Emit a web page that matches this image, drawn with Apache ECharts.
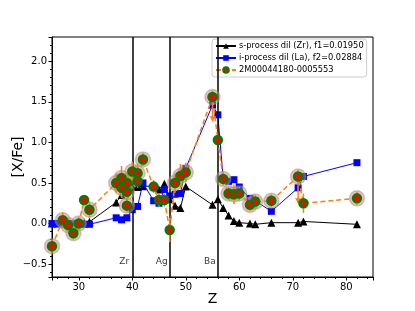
<!DOCTYPE html>
<html><head><meta charset="utf-8">
<script src="https://cdn.jsdelivr.net/npm/echarts@6/dist/echarts.min.js"></script>
<style>html,body{margin:0;padding:0;background:#fff}#c{width:415px;height:311px}</style>
</head><body><div id="c"></div>
<script>
// s-process dilution model (black triangles)
const sZ = [25,26,27,28,29,30,31,32,37,38,39,40,41,42,44,45,46,47,48,49,50,55,56,57,58,59,60,62,63,66,71,72,82];
const sV = [0,0,0,0,0,0,0.01,0.02,0.26,0.35,0.40,0.45,0.45,0.46,0.46,0.42,0.49,0.30,0.22,0.19,0.455,0.23,0.30,0.19,0.10,0.03,0.01,0.0,-0.01,0.01,0.01,0.025,-0.01];
// i-process dilution model (blue squares)
const iZ = [25,26,27,28,29,30,31,32,37,38,39,40,41,42,44,45,46,47,48,49,50,55,56,57,58,59,60,62,63,66,71,72,82];
const iV = [0.0,0.0,0.0,-0.01,0.0,0.0,-0.01,-0.01,0.07,0.045,0.07,0.17,0.21,0.50,0.28,0.25,0.42,0.34,0.36,0.37,0.68,1.46,1.34,0.55,0.52,0.54,0.45,0.31,0.28,0.15,0.44,0.58,0.75];
// star abundances
const starZ = [25,27,28,29,30,31,32,37,38,38,39,39,39,40,41,41,42,44,45,46,47,48,49,50,55,56,57,58,59,60,62,63,66,71,72,82];
const starV = [-0.28,0.04,-0.02,-0.12,0.0,0.29,0.17,0.50,0.56,0.44,0.50,0.39,0.22,0.64,0.62,0.52,0.79,0.455,0.29,0.29,-0.08,0.50,0.585,0.63,1.56,1.03,0.55,0.37,0.36,0.37,0.23,0.27,0.28,0.58,0.25,0.31];
const starErr = [0.08,0.1,0.08,0.08,0.08,0.04,0.1,0.12,0.15,0.12,0.12,0.12,0.08,0.12,0.12,0.08,0.08,0.08,0.08,0.08,0.15,0.12,0.15,0.12,0.08,0.04,0.08,0.08,0.12,0.08,0.08,0.08,0.08,0.08,0.12,0.08];
const starHalo = [1,1,1,1,1,0,1,1,1,1,1,1,1,1,1,0,1,0,0,0,0,1,1,1,1,0,1,1,1,1,1,1,1,1,0,1];
// upper limits
const limZ = [55,71];
const limV = [1.56,0.58];
const limLen = [0.3,0.33];
// reference lines
const lineZ = [40,47,56];
const lineNames = ['Zr','Ag','Ba'];
const lineLabelZ = [38.5,45.5,54.5];
const lineLabelV = -0.47;

const names = ['s-process dil (Zr), f1=0.01950','i-process dil (La), f2=0.02884','2M00044180-0005553'];
const FONT = 'DejaVu Sans';
const fmtY = v => v.toFixed(1).replace('-', '\u2212');

const chart = echarts.init(document.getElementById('c'), null, {renderer:'canvas'});
const errData = starZ.map((z,i)=>[z, starV[i]-starErr[i], starV[i]+starErr[i]]);
const haloData = starZ.map((z,i)=>[z, starV[i]]).filter((d,i)=>starHalo[i]);
const limData = limZ.map((z,i)=>[z, limV[i], limV[i]-limLen[i]]);

chart.setOption({
  animation:false,
  textStyle:{fontFamily:FONT},
  grid:{left:52, right:42, top:37, bottom:34, show:true, borderColor:'#000', borderWidth:1, containLabel:false, outerBoundsMode:'none'},
  legend:{
    data:names, orient:'vertical', left:212, top:39,
    itemWidth:20, itemHeight:7, itemGap:4, padding:[3,3,3,3],
    backgroundColor:'rgba(255,255,255,0.8)', borderColor:'#ccc', borderWidth:1, borderRadius:3,
    textStyle:{fontFamily:FONT, fontSize:8.3, color:'#000', padding:[0,0,0,-2]}
  },
  xAxis:{
    type:'value', min:25, max:85, splitNumber:6,
    name:'Z', nameLocation:'middle', nameGap:15, nameMoveOverlap:false, nameTextStyle:{fontFamily:FONT, fontSize:14, color:'#000'},
    axisLine:{show:true, onZero:false, lineStyle:{color:'#000'}},
    axisTick:{show:true, inside:false, length:3.5, lineStyle:{color:'#000'}},
    minorTick:{show:true, splitNumber:5, length:2, lineStyle:{color:'#000'}},
    axisLabel:{fontFamily:FONT, fontSize:10, color:'#000', margin:5, showMinLabel:false, showMaxLabel:false},
    splitLine:{show:false}
  },
  yAxis:{
    type:'value', min:-0.66, max:2.3, splitNumber:6,
    name:'[X/Fe]', nameLocation:'middle', nameGap:27, nameRotate:90, nameMoveOverlap:false, nameTextStyle:{fontFamily:FONT, fontSize:14, color:'#000'},
    axisLine:{show:true, onZero:false, lineStyle:{color:'#000'}},
    axisTick:{show:true, inside:false, length:3.5, lineStyle:{color:'#000'}},
    minorTick:{show:true, splitNumber:5, length:2, lineStyle:{color:'#000'}},
    axisLabel:{fontFamily:FONT, fontSize:10, color:'#000', margin:5, showMinLabel:false, showMaxLabel:false, formatter:fmtY},
    splitLine:{show:false}
  },
  series:[
    {
      name:'refs', type:'scatter', symbolSize:0, silent:true, z:1,
      data: lineNames.map((n,i)=>[lineLabelZ[i], lineLabelV, n]),
      label:{show:true, position:'inside', formatter:p=>p.data[2], fontFamily:FONT, fontSize:9, color:'#000'},
      markLine:{symbol:'none', silent:true, label:{show:false},
        lineStyle:{color:'#000', width:1.5, type:'solid'},
        data: lineZ.map(z=>({xAxis:z}))}
    },
    {
      name:names[0], type:'line', data:sZ.map((z,i)=>[z,sV[i]]), z:3,
      symbol:'triangle', symbolSize:8, itemStyle:{color:'#000'}, lineStyle:{color:'#000', width:1}
    },
    {
      name:names[1], type:'line', data:iZ.map((z,i)=>[z,iV[i]]), z:4,
      symbol:'rect', symbolSize:7, itemStyle:{color:'#0000ff'}, lineStyle:{color:'#0000ff', width:1}
    },
    {
      name:'halo', type:'scatter', data:haloData, z:5, symbolSize:15, silent:true,
      itemStyle:{color:'rgba(232,120,100,0.6)', borderColor:'rgba(150,150,150,0.6)', borderWidth:1.5}
    },
    {
      name:'err', type:'custom', z:6, silent:true, data:errData,
      renderItem:(params, api)=>{
        const a = api.coord([api.value(0), api.value(1)]);
        const b = api.coord([api.value(0), api.value(2)]);
        return {type:'line', shape:{x1:a[0], y1:a[1], x2:b[0], y2:b[1]}, style:{stroke:'#ff7f0e', lineWidth:1.5}};
      }
    },
    {
      name:'lim', type:'custom', z:6, silent:true, data:limData,
      renderItem:(params, api)=>{
        const a = api.coord([api.value(0), api.value(1)]);
        const b = api.coord([api.value(0), api.value(2)]);
        return {type:'group', children:[
          {type:'line', shape:{x1:a[0], y1:a[1], x2:b[0], y2:b[1]}, style:{stroke:'#ff7f0e', lineWidth:1.5}},
          {type:'polygon', shape:{points:[[b[0]-3,b[1]-5],[b[0]+3,b[1]-5],[b[0],b[1]]]}, style:{fill:'#ff7f0e'}}
        ]};
      }
    },
    {
      name:names[2], type:'line', data:starZ.map((z,i)=>[z,starV[i]]), z:7,
      symbol:'circle', symbolSize:8,
      itemStyle:{color:'#ff0000', borderColor:'#008000', borderWidth:2.5},
      lineStyle:{color:'#ff7f0e', width:1.5, type:[5,3]}
    }
  ]
});
</script>
</body></html>
